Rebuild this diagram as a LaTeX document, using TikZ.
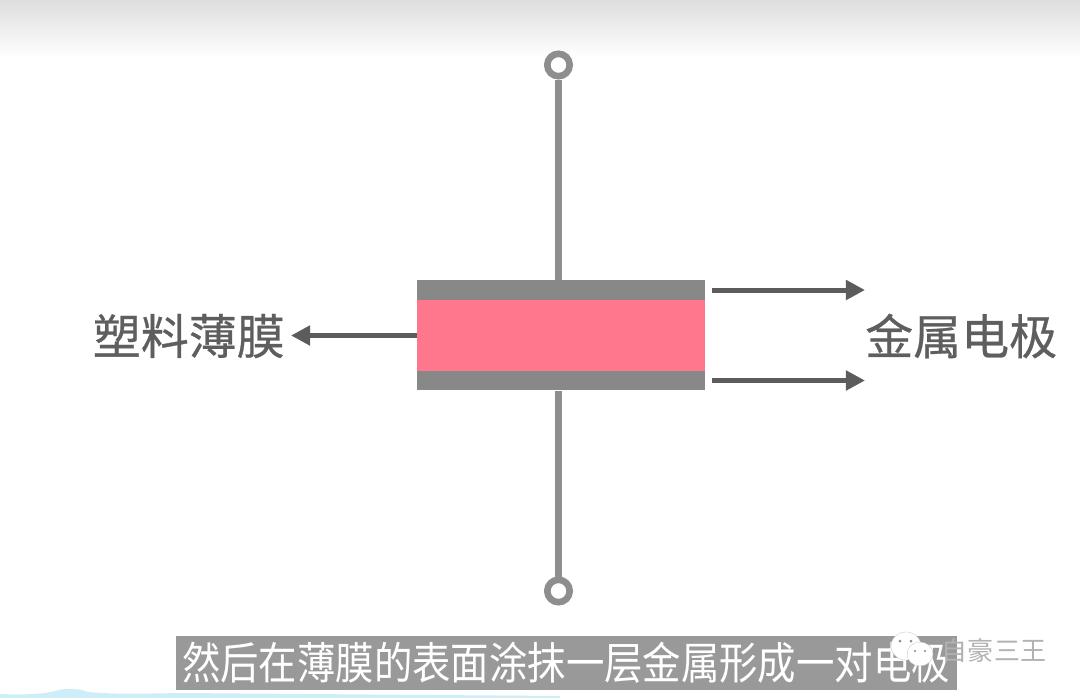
\documentclass[tikz,border=0pt]{standalone}
\usepackage{fontspec}
\setmainfont{Noto Sans CJK SC}
\newfontfamily\labelfont[FakeBold=0.6]{Noto Sans CJK SC}
\usetikzlibrary{arrows.meta}
\definecolor{platecol}{HTML}{888888}
\definecolor{filmcol}{HTML}{FF778C}
\definecolor{wirecol}{HTML}{8E8E8E}
\definecolor{arrowcol}{HTML}{5C5C5C}
\definecolor{labelcol}{HTML}{5E5E5E}
\definecolor{bandcol}{HTML}{999999}
\definecolor{iceblue}{HTML}{CDEDF8}
\tikzset{
    plate/.style={fill=platecol, minimum width=7.2cm, minimum height=0.49cm, inner sep=0pt},
    film/.style={fill=filmcol, minimum width=7.2cm, minimum height=1.78cm, inner sep=0pt},
    terminal/.style={circle, draw=wirecol, line width=0.165cm, fill=white, minimum size=0.56cm, inner sep=0pt},
    wire/.style={draw=wirecol, line width=0.165cm},
    pointer/.style={draw=arrowcol, line width=0.125cm, -{Triangle[length=0.48cm, width=0.48cm]}},
    label/.style={text=labelcol, font=\labelfont\fontsize{34.1}{34.1}\selectfont, inner sep=0pt},
}
\begin{document}
\begin{tikzpicture}[x=0.025cm, y=-0.025cm]
    \useasboundingbox (0,0) rectangle (1080,698);
    \fill[white] (0,0) rectangle (1080,698);
    % top shade and ice at the bottom edge
    \shade[top color=black!13, bottom color=white] (0,0) rectangle (1080,58);
    \fill[iceblue] (0,698) -- (0,694) .. controls (25,695) and (45,694) .. (55,691) .. controls (65,688) and (78,688) .. (88,692) .. controls (110,694) and (130,694) .. (180,693) -- (560,696) -- (560,698) -- cycle;

    \node[terminal] (top) at (558.5,65) {};
    \node[terminal] (bot) at (558.5,591) {};
    \node[plate] (topplate) at (561,290) {};
    \node[plate] (botplate) at (561,380.5) {};
    \node[film] (foil) at (561,335.5) {};
    \draw[wire] (top) -- (top |- topplate.north);
    \draw[wire] (bot) -- (bot |- botplate.south);

    \node[label, anchor=east] (foillabel) at (285,336) {塑料薄膜};
    \node[label, anchor=west] (metallabel) at (865,336) {金属电极};
    \coordinate (foilarrow) at (291,335.5);
    \coordinate (toparrowA) at (712,290);
    \coordinate (toparrowB) at (865,290);
    \coordinate (botarrowA) at (712,380.5);
    \coordinate (botarrowB) at (865,380.5);
    \draw[pointer] (foil.west) -- (foilarrow);
    \draw[pointer] (toparrowA) -- (toparrowB);
    \draw[pointer] (botarrowA) -- (botarrowB);

    % caption band
    \node[fill=bandcol, minimum width=19.52cm, minimum height=1.35cm, inner sep=0pt, text=white,
        font=\fontsize{27.3}{27.3}\selectfont] (caption) at (566,663) {\scalebox{1}[1.15]{然后在薄膜的表面涂抹一层金属形成一对电极}};

    % mark in the corner
    \fill[white, draw=black!25, line width=0.2pt] (906,646) ellipse (15 and 14);
    \fill[white, draw=black!25, line width=0.2pt] (920,654) ellipse (13 and 12);
    \fill[black!45] (900,641) circle (1.5) (911,641) circle (1.5) (915,651) circle (1.2) (925,651) circle (1.2);
    \node[text=black!30, font=\fontsize{18.5}{18.5}\selectfont, inner sep=0pt] (mark) at (994,651) {自豪三王};
\end{tikzpicture}
\end{document}
